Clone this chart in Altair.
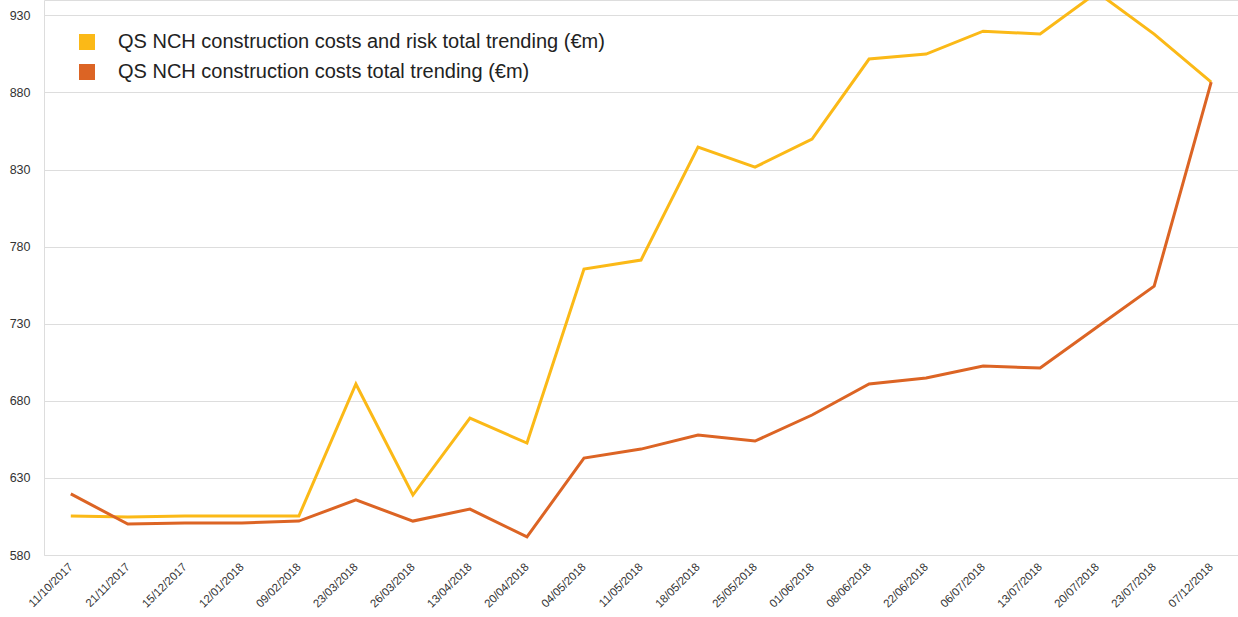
import altair as alt
import pandas as pd

dates = ["11/10/2017", "21/11/2017", "15/12/2017", "12/01/2018", "09/02/2018",
         "23/03/2018", "26/03/2018", "13/04/2018", "20/04/2018", "04/05/2018",
         "11/05/2018", "18/05/2018", "25/05/2018", "01/06/2018", "08/06/2018",
         "22/06/2018", "06/07/2018", "13/07/2018", "20/07/2018", "23/07/2018",
         "07/12/2018"]

with_risk = [605.3, 604.6, 605.3, 605.3, 605.3, 690.9, 618.9, 668.8, 652.6, 765.5,
             771.3, 844.6, 831.6, 849.8, 901.7, 904.9, 919.8, 917.9, 945.0, 917.9,
             886.7]

costs_only = [619.6, 600.1, 600.8, 600.8, 602.0, 615.7, 602.0, 609.8, 591.7, 642.9,
              648.7, 657.8, 653.9, 670.8, 690.9, 694.8, 702.6, 701.3, 727.9, 754.4,
              886.7]

series_names = ["QS NCH construction costs and risk total trending (€m)",
                "QS NCH construction costs total trending (€m)"]
series_colors = ["#FBB917", "#DC6424"]
y_ticks = [580, 630, 680, 730, 780, 830, 880, 930]

rows = []
for d, a, b in zip(dates, with_risk, costs_only):
    rows.append({"date": d, "series": series_names[0], "value": a})
    rows.append({"date": d, "series": series_names[1], "value": b})
df = pd.DataFrame(rows)

font = "Liberation Sans"

chart = alt.Chart(df).mark_line(strokeWidth=3, clip=True).encode(
    x=alt.X("date:N", sort=dates, title=None,
            scale=alt.Scale(type="point", padding=0.47),
            axis=alt.Axis(labelAngle=315, labelAlign="right", labelBaseline="middle",
                          labelPadding=10, tickSize=0, domain=False, grid=False,
                          labelFontSize=11.5, labelColor="#333333", labelFont=font)),
    y=alt.Y("value:Q", title=None,
            scale=alt.Scale(domain=[580, 940], nice=False, zero=False),
            axis=alt.Axis(values=y_ticks, tickSize=0, domain=False, labelPadding=14,
                          labelFontSize=12.5, labelColor="#333333", labelFont=font,
                          gridColor="#dddddd", gridWidth=1)),
    color=alt.Color("series:N", sort=series_names,
                    scale=alt.Scale(domain=series_names, range=series_colors),
                    legend=alt.Legend(title=None, orient="none", legendX=33, legendY=32,
                                      symbolType="square", symbolSize=64,
                                      symbolStrokeWidth=8, symbolOpacity=1,
                                      labelFontSize=20, labelFont=font,
                                      labelColor="#222222", labelOffset=21,
                                      rowPadding=-14, labelLimit=800)),
    order=alt.Order("series:N")
).properties(
    width=1194, height=555,
    autosize=alt.AutoSizeParams(type="none"),
    padding={"left": 44, "top": 0, "right": 0, "bottom": 62}
).configure_view(strokeWidth=0).configure(background="white")

chart.save("out.html", embed_options={"renderer": "svg", "actions": False})
